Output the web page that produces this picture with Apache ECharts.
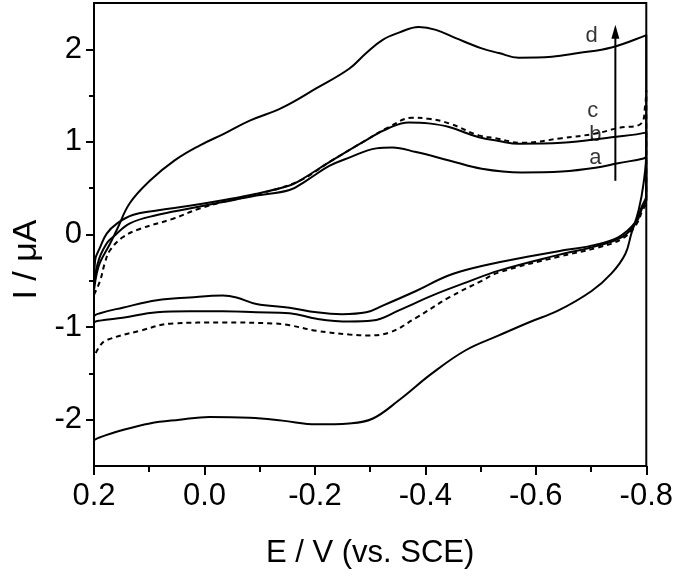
<!DOCTYPE html>
<html><head><meta charset="utf-8">
<script src="https://cdn.jsdelivr.net/npm/echarts@6/dist/echarts.min.js"></script>
<style>html,body{margin:0;padding:0;background:#fff}#c{width:676px;height:576px}</style>
</head><body><div id="c"></div>
<script>
// Cyclic voltammograms: [E (V vs SCE), I (uA)], loop: forward (upper) then reverse (lower)
const curveA = [
  [0.2,-0.55],[0.196,-0.38],[0.19,-0.25],[0.184,-0.17],[0.175,-0.08],[0.166,-0.03],[0.135,0.12],[0.086,0.21],
  [0.027,0.28],[-0.033,0.35],[-0.094,0.42],[-0.154,0.48],[-0.184,0.58],[-0.226,0.74],[-0.262,0.83],[-0.311,0.93],
  [-0.34,0.94],[-0.383,0.89],[-0.443,0.80],[-0.502,0.71],[-0.574,0.67],[-0.647,0.68],[-0.708,0.72],[-0.749,0.77],
  [-0.795,0.82],[-0.8,0.84],
  [-0.8,0.42],[-0.799,0.39],[-0.791,0.29],[-0.78,0.13],[-0.749,-0.03],[-0.701,-0.12],[-0.641,-0.18],[-0.533,-0.30],
  [-0.502,-0.34],[-0.443,-0.44],[-0.383,-0.61],[-0.322,-0.77],[-0.293,-0.84],[-0.249,-0.86],[-0.203,-0.84],
  [-0.154,-0.79],[-0.094,-0.75],[-0.058,-0.68],[-0.033,-0.66],[0.027,-0.68],[0.086,-0.71],[0.148,-0.79],
  [0.189,-0.85],[0.2,-0.89],[0.2,-1.0],[0.2,-0.55]
];
const curveB = [
  [0.2,-0.6],[0.198,-0.28],[0.189,-0.14],[0.177,0.01],[0.158,0.12],[0.13,0.21],[0.086,0.26],[0.027,0.31],
  [-0.033,0.37],[-0.094,0.44],[-0.154,0.53],[-0.172,0.58],[-0.231,0.80],[-0.293,1.02],[-0.334,1.15],[-0.37,1.21],
  [-0.406,1.20],[-0.443,1.16],[-0.497,1.05],[-0.533,1.01],[-0.569,0.98],[-0.647,0.99],[-0.737,1.05],[-0.799,1.10],
  [-0.8,1.12],
  [-0.8,0.37],[-0.793,0.29],[-0.782,0.13],[-0.758,-0.02],[-0.713,-0.12],[-0.641,-0.22],[-0.533,-0.39],
  [-0.473,-0.52],[-0.412,-0.66],[-0.352,-0.82],[-0.304,-0.93],[-0.262,-0.94],[-0.203,-0.91],[-0.154,-0.85],
  [-0.094,-0.84],[-0.033,-0.83],[0.027,-0.83],[0.086,-0.84],[0.148,-0.90],[0.189,-0.93],[0.2,-0.96],[0.2,-1.1],[0.2,-0.6]
];
const curveC = [
  [0.2,-0.65],[0.189,-0.50],[0.18,-0.30],[0.171,-0.17],[0.148,-0.03],[0.117,0.06],[0.057,0.17],[0.009,0.28],
  [-0.033,0.35],[-0.1,0.44],[-0.172,0.58],[-0.231,0.80],[-0.293,1.02],[-0.334,1.16],[-0.376,1.26],[-0.406,1.25],
  [-0.443,1.20],[-0.497,1.07],[-0.527,1.04],[-0.574,0.99],[-0.647,1.04],[-0.708,1.09],[-0.749,1.15],[-0.791,1.20],
  [-0.798,1.40],[-0.8,1.56],
  [-0.8,0.35],[-0.793,0.26],[-0.782,0.11],[-0.758,-0.04],[-0.713,-0.14],[-0.641,-0.24],[-0.533,-0.41],
  [-0.502,-0.50],[-0.443,-0.68],[-0.383,-0.90],[-0.334,-1.06],[-0.293,-1.09],[-0.262,-1.08],[-0.203,-1.04],
  [-0.154,-0.98],[-0.123,-0.96],[-0.033,-0.95],[0.057,-0.96],[0.117,-1.04],[0.177,-1.14],[0.189,-1.20],[0.2,-1.32],[0.2,-0.65]
];
const curveD = [
  [0.2,-0.6],[0.195,-0.42],[0.189,-0.30],[0.171,-0.10],[0.158,0.06],[0.135,0.34],[0.099,0.58],[0.054,0.80],
  [0.009,0.96],[-0.036,1.09],[-0.082,1.23],[-0.141,1.37],[-0.203,1.58],[-0.262,1.79],[-0.293,1.96],[-0.322,2.10],
  [-0.352,2.18],[-0.388,2.24],[-0.419,2.21],[-0.455,2.12],[-0.502,2.01],[-0.533,1.96],[-0.569,1.91],[-0.629,1.92],
  [-0.677,1.96],[-0.737,2.02],[-0.799,2.15],[-0.8,2.16],
  [-0.8,0.9],[-0.795,0.55],[-0.786,0.26],[-0.773,0.01],[-0.762,-0.21],[-0.737,-0.42],[-0.701,-0.61],[-0.641,-0.82],
  [-0.587,-0.95],[-0.533,-1.09],[-0.473,-1.25],[-0.412,-1.50],[-0.352,-1.79],[-0.304,-1.99],[-0.262,-2.04],
  [-0.203,-2.05],[-0.141,-2.01],[-0.082,-1.98],[-0.009,-1.97],[0.045,-2.00],[0.099,-2.04],[0.153,-2.12],
  [0.189,-2.19],[0.2,-2.22],[0.2,-0.6]
];
const curveLabels = [[-0.701,2.14,'d'],[-0.703,1.33,'c'],[-0.708,1.08,'b'],[-0.708,0.83,'a']];
const arrowLine = [[-0.744,0.58],[-0.744,2.19]];
const yMajorTicks = [-2,-1,0,1,2];
const yMinorTicks = [-1.5,-0.5,0.5,1.5];

const FONT = 'Liberation Sans';
const chart = echarts.init(document.getElementById('c'));
const solid = {type:'line', showSymbol:false, smooth:0.4, lineStyle:{color:'#000', width:2}, itemStyle:{color:'#000'}, z:3};
chart.setOption({
  animation:false,
  backgroundColor:'#fff',
  grid:{left:94, right:28, top:3, bottom:110, show:true, borderColor:'#000', borderWidth:2},
  xAxis:{type:'value', min:-0.8, max:0.2, interval:0.2, inverse:true,
    axisLine:{onZero:false, lineStyle:{color:'#000', width:2}},
    axisTick:{length:9, lineStyle:{color:'#000', width:2}},
    minorTick:{show:true, splitNumber:2, length:6, lineStyle:{color:'#000', width:2}},
    splitLine:{show:false}, minorSplitLine:{show:false},
    axisLabel:{color:'#000', fontFamily:FONT, fontSize:31, margin:15, formatter:v=>(+v).toFixed(1).replace('-0.0','0.0')},
    name:'E / V (vs. SCE)', nameLocation:'middle', nameGap:72,
    nameTextStyle:{color:'#000', fontFamily:FONT, fontSize:31}
  },
  yAxis:[{type:'value', min:-2.5, max:2.5,
    axisLine:{show:true, onZero:false, lineStyle:{color:'#000', width:2}},
    axisTick:{show:true, length:8, customValues:yMajorTicks, lineStyle:{color:'#000', width:2}},
    axisLabel:{color:'#000', fontFamily:FONT, fontSize:31, margin:12, customValues:yMajorTicks, formatter:v=>String(Math.round(v))},
    splitLine:{show:false},
    name:'I / μA', nameLocation:'middle', nameGap:50,
    nameTextStyle:{color:'#000', fontFamily:FONT, fontSize:34, padding:[0,50,0,0]}
  },{type:'value', min:-2.5, max:2.5, position:'left',
    axisLine:{show:false, onZero:false}, axisLabel:{show:false}, splitLine:{show:false},
    axisTick:{show:true, length:5, customValues:yMinorTicks, lineStyle:{color:'#000', width:2}}
  }],
  series:[
    Object.assign({}, solid, {name:'a', data:curveA}),
    Object.assign({}, solid, {name:'b', data:curveB}),
    Object.assign({}, solid, {name:'c', data:curveC, lineStyle:{color:'#000', width:2, type:[5,4]}}),
    Object.assign({}, solid, {name:'d', data:curveD}),
    {type:'line', data:[{value:arrowLine[0], symbol:'none'},{value:arrowLine[1], symbol:'triangle', symbolSize:[8,14]}],
      showSymbol:true, lineStyle:{color:'#000', width:2}, itemStyle:{color:'#000'}, z:4},
    {type:'scatter', data:curveLabels, symbol:'rect', symbolSize:20, itemStyle:{color:'rgba(255,255,255,0)'}, z:5, silent:true,
      label:{show:true, position:'inside', formatter:p=>p.value[2], color:'#000', fontFamily:FONT, fontSize:22, textBorderWidth:0}}
  ]
});
</script></body></html>
